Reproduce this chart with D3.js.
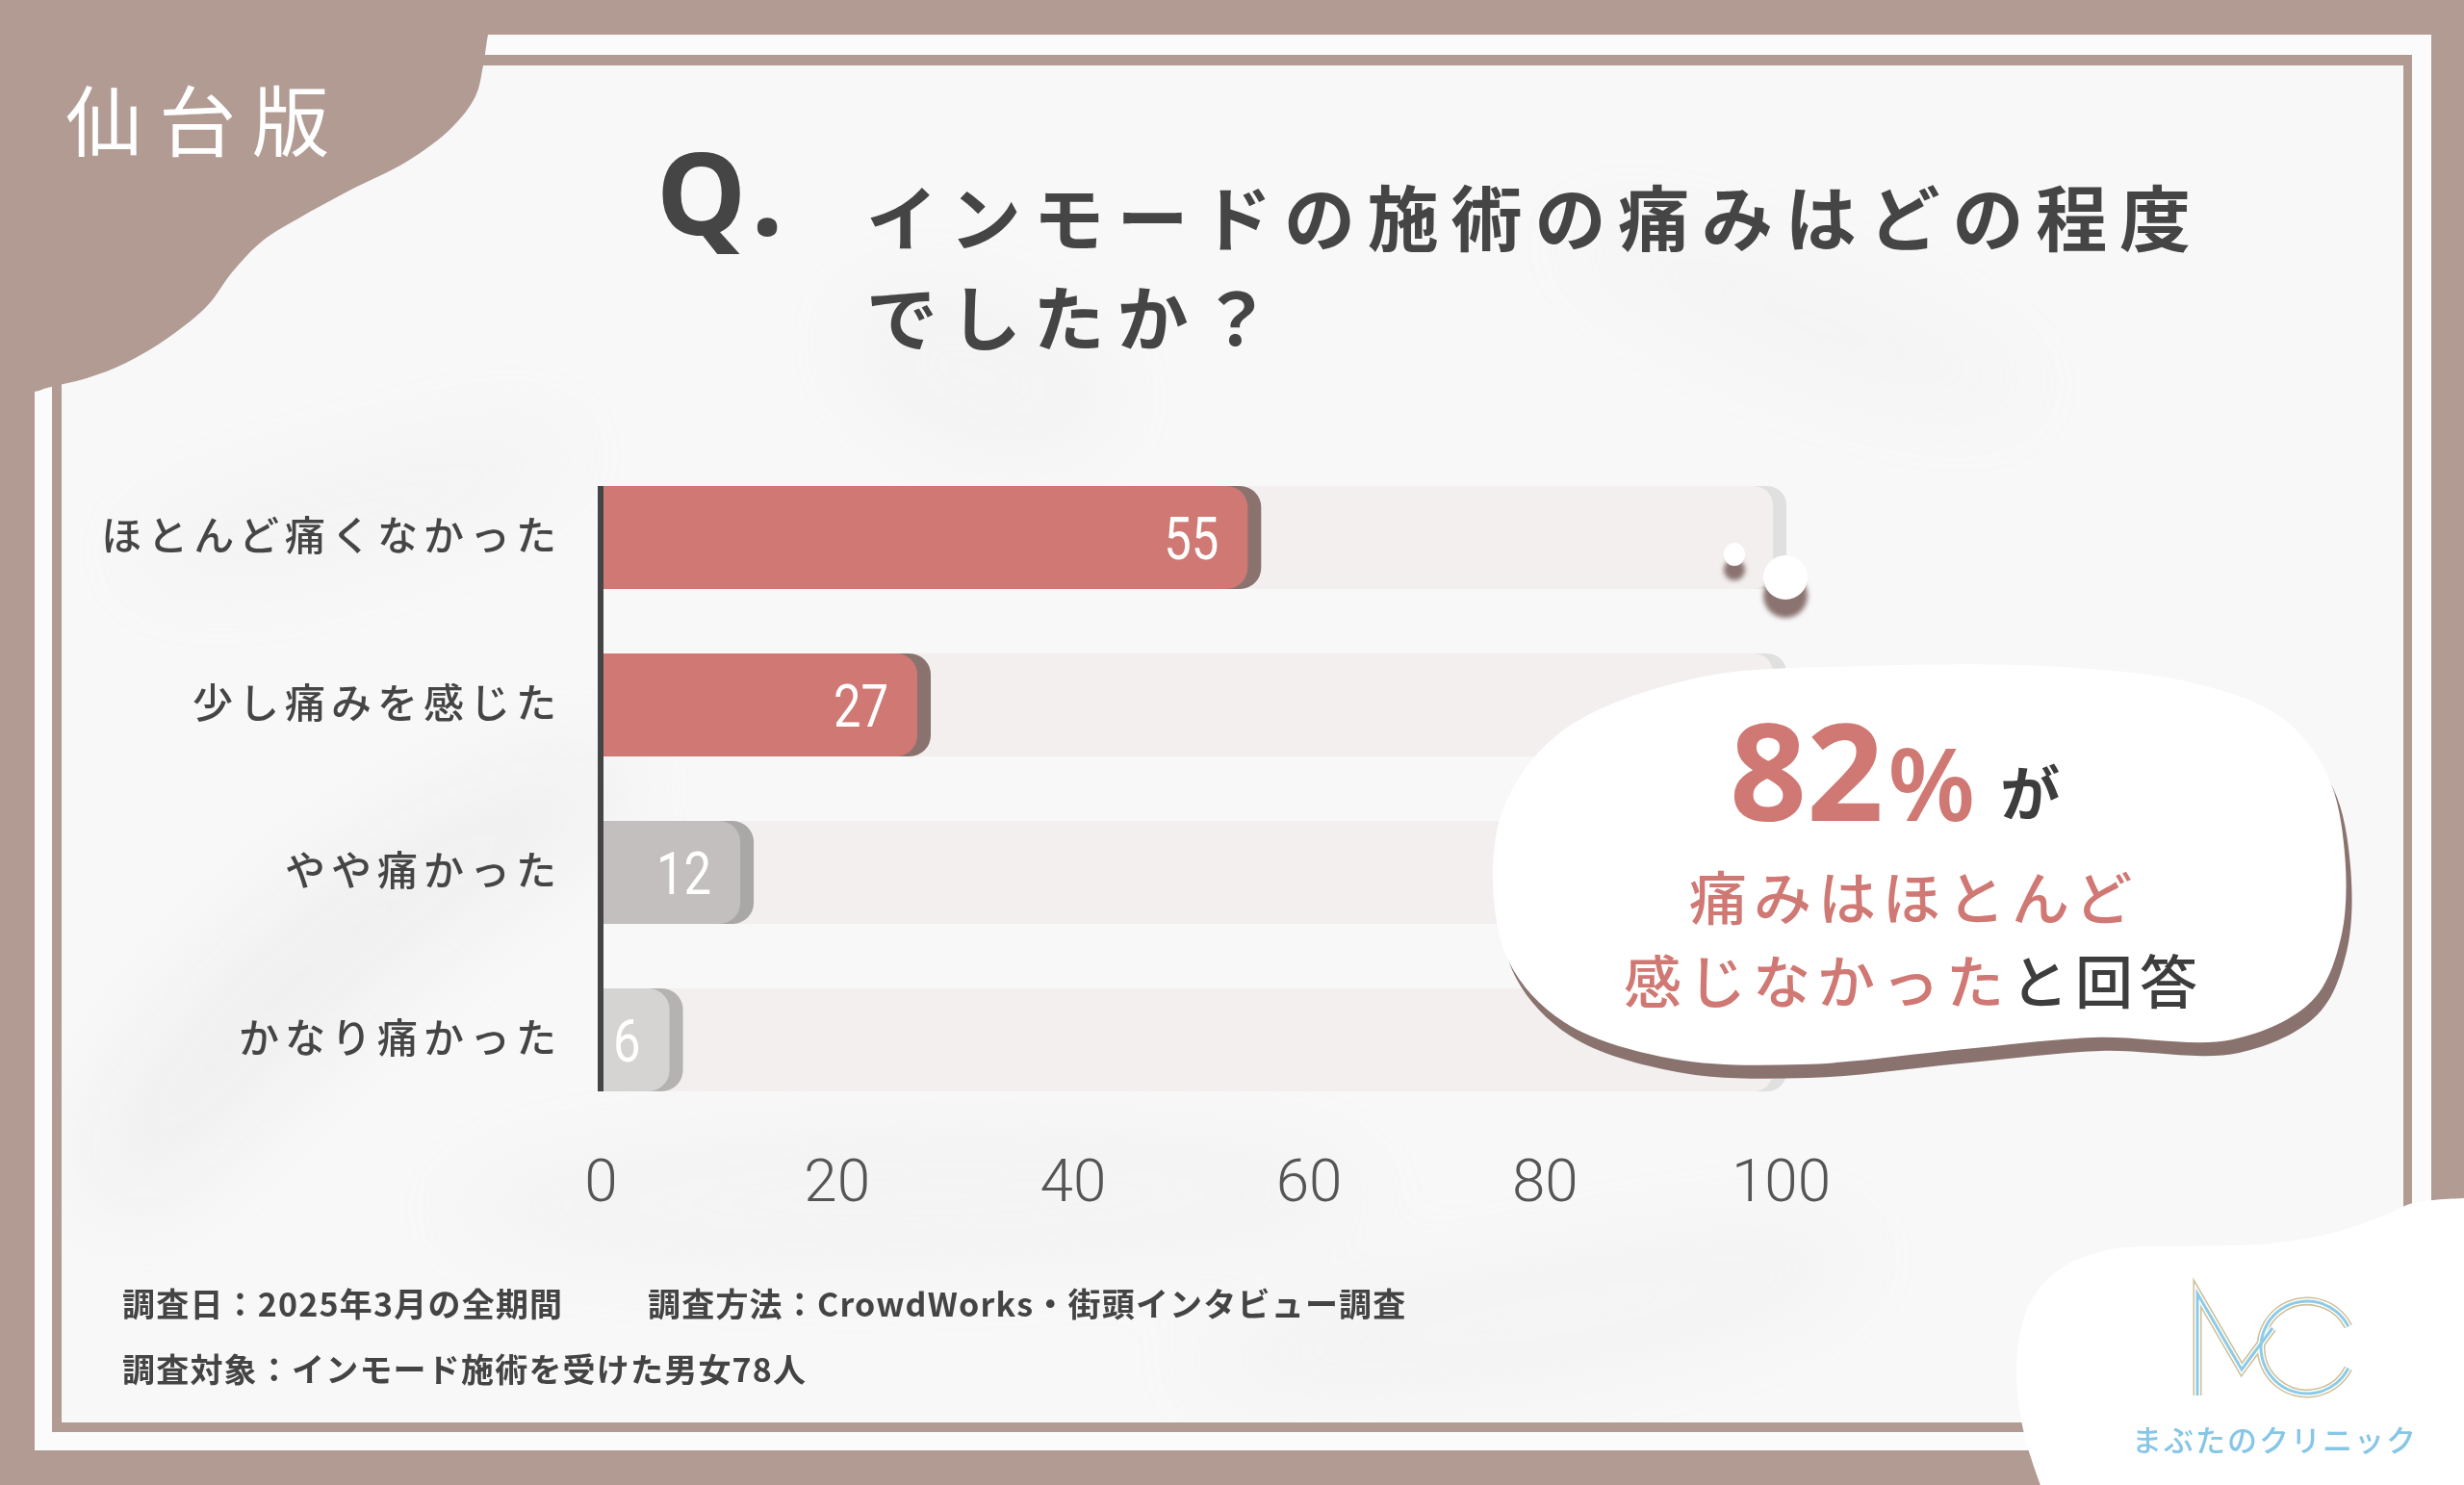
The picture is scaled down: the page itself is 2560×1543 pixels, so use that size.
<!DOCTYPE html>
<html><head><meta charset="utf-8">
<script src="https://cdn.jsdelivr.net/npm/d3@7"></script>
<style>html,body{margin:0;padding:0;background:#b19b93;overflow:hidden}</style>
</head><body>
<svg id="c" width="2560" height="1543" xmlns="http://www.w3.org/2000/svg"></svg>
<script>
// ---------- data ----------
const categories = ["ほとんど痛くなかった", "少し痛みを感じた", "やや痛かった", "かなり痛かった"];
const values = [55, 27, 12, 6];
const tickValues = [0, 20, 40, 60, 80, 100];
const regionLabel = "仙台版";
const titleLines = ["インモードの施術の痛みはどの程度", "でしたか？"];
const calloutNumber = "82";
const calloutLine2 = "痛みはほとんど";
const calloutLine3a = "感じなかった";
const calloutLine3b = "と回答";
const footnotes1 = ["調査日：2025年3月の全期間", "調査方法：CrowdWorks・街頭インタビュー調査"];
const footnotes2 = ["調査対象：インモード施術を受けた男女78人"];
const logoText = "まぶたのクリニック";

// ---------- setup ----------
const svg = d3.select("#c");
const W = 2560, H = 1543;
const BROWN = "#b19b93", DARK = "#454545", SALMON = "#d07873";
const JP = "'Noto Sans CJK JP','Noto Sans',sans-serif";

const defs = svg.append("defs");
defs.append("filter").attr("id", "blur").attr("x", "-50%").attr("y", "-50%").attr("width", "200%").attr("height", "200%")
  .append("feGaussianBlur").attr("stdDeviation", 45);
defs.append("filter").attr("id", "blurS").attr("x", "-50%").attr("y", "-50%").attr("width", "200%").attr("height", "200%")
  .append("feGaussianBlur").attr("stdDeviation", 2.5);
defs.append("clipPath").attr("id", "inner").append("rect").attr("x", 64).attr("y", 68).attr("width", 2433).attr("height", 1410);

// background brown
svg.append("rect").attr("width", W).attr("height", H).attr("fill", BROWN);
// outer white frame
svg.append("rect").attr("x", 36).attr("y", 36).attr("width", 2490).attr("height", 1471).attr("fill", "#fbfbfb");
// brown inner line
svg.append("rect").attr("x", 54).attr("y", 57).attr("width", 2452).attr("height", 1431).attr("fill", BROWN);
// inner area
svg.append("rect").attr("x", 64).attr("y", 68).attr("width", 2433).attr("height", 1410).attr("fill", "#f8f8f8");

// marble streaks
const marble = svg.append("g").attr("clip-path", "url(#inner)").attr("filter", "url(#blur)").attr("fill", "#dedede").attr("opacity", 0.32);
const streak = d3.line().curve(d3.curveBasisClosed);
marble.append("path").attr("d", streak([[60, 1180], [300, 900], [620, 760], [700, 820], [380, 1020], [120, 1320]]));
marble.append("path").attr("d", streak([[850, 280], [1100, 320], [1200, 440], [1050, 490], [900, 430]])).attr("opacity", 0.5);
marble.append("path").attr("d", streak([[300, 1250], [900, 1150], [1500, 1200], [1400, 1300], [700, 1330]])).attr("opacity", 0.5);
marble.append("path").attr("d", streak([[60, 560], [400, 470], [620, 420], [600, 520], [200, 640]])).attr("opacity", 0.45);
marble.append("path").attr("d", streak([[1100, 1420], [1600, 1300], [2000, 1250], [1900, 1380], [1400, 1470]])).attr("opacity", 0.5);
marble.append("path").attr("d", streak([[1550, 200], [1900, 260], [2200, 420], [2000, 450], [1700, 330]])).attr("opacity", 0.35);

// top-left brown blob
const blobTL = [[0, 0], [515, 0], [507, 36], [502, 68], [494, 100], [469, 133], [424, 167], [359, 200], [310, 227], [273, 250], [241, 283], [216, 317], [176, 350], [131, 377], [90, 393], [49, 403], [36, 407], [0, 410]];
svg.append("path").attr("d", d3.line().curve(d3.curveCatmullRom.alpha(0.5))(blobTL) + "Z").attr("fill", BROWN);

// region label
svg.append("text").attr("x", 68).attr("y", 121).attr("dominant-baseline", "central")
  .attr("font-family", JP).attr("font-size", 80).attr("font-weight", 400).attr("letter-spacing", 17)
  .attr("fill", "#ffffff").text(regionLabel);

// title
svg.append("text").attr("x", 682).attr("y", 244).attr("font-family", "'Noto Sans',sans-serif").attr("font-weight", 700)
  .attr("font-size", 118).attr("letter-spacing", 10).attr("fill", DARK).text("Q.");
svg.selectAll("text.title").data(titleLines).join("text").attr("class", "title")
  .attr("x", 900).attr("y", (d, i) => 222 + i * 104).attr("dominant-baseline", "central")
  .attr("font-family", JP).attr("font-weight", 700).attr("font-size", 74).attr("letter-spacing", 12.8)
  .attr("fill", DARK).text(d => d);

// ---------- chart ----------
const x = d3.scaleLinear().domain([0, 100]).range([624, 1850]);
const y = d3.scaleBand().domain(categories).range([471.5, 1167.5]).paddingInner(0.385).paddingOuter(0.1925);
const fillColor = d3.scaleOrdinal().domain(categories).range([SALMON, SALMON, "#c2bfbe", "#d6d4d3"]);
const edgeColor = d3.scaleOrdinal().domain(categories).range(["#8a736f", "#8a736f", "#aaa8a7", "#b5b3b2"]);

function rightRounded(x0, x1, yy, h, r) {
  r = Math.min(r, (x1 - x0), h / 2);
  return `M${x0},${yy}H${x1 - r}A${r},${r} 0 0 1 ${x1},${yy + r}V${yy + h - r}A${r},${r} 0 0 1 ${x1 - r},${yy + h}H${x0}Z`;
}

const rows = categories.map((c, i) => ({ cat: c, value: values[i] }));
const bh = y.bandwidth();
const g = svg.append("g");

// tracks
g.selectAll("path.trackEdge").data(rows).join("path").attr("class", "trackEdge")
  .attr("d", d => rightRounded(x(0), x(100) + 6, y(d.cat), bh, 20)).attr("fill", "#e1e0e0");
g.selectAll("path.track").data(rows).join("path").attr("class", "track")
  .attr("d", d => rightRounded(x(0), x(100) - 8, y(d.cat), bh, 20)).attr("fill", "#f2efee");

// bars
g.selectAll("path.barEdge").data(rows).join("path").attr("class", "barEdge")
  .attr("d", d => rightRounded(x(0), x(d.value) + 12, y(d.cat), bh, 22)).attr("fill", d => edgeColor(d.cat));
g.selectAll("path.bar").data(rows).join("path").attr("class", "bar")
  .attr("d", d => rightRounded(x(0), x(d.value) - 2, y(d.cat), bh, 22)).attr("fill", d => fillColor(d.cat));

// value labels
g.selectAll("text.val").data(rows).join("text").attr("class", "val")
  .attr("transform", d => `translate(${x(d.value) - 32},${y(d.cat) + bh / 2 + 1}) scale(0.82,1)`)
  .attr("text-anchor", "end").attr("dominant-baseline", "central")
  .attr("font-family", "Roboto,sans-serif").attr("font-size", 62).attr("font-weight", 400)
  .attr("fill", "#ffffff").text(d => d.value);

// axis line
g.append("line").attr("x1", x(0)).attr("x2", x(0)).attr("y1", y(categories[0])).attr("y2", y(categories[3]) + bh)
  .attr("stroke", "#454545").attr("stroke-width", 6);

// category labels
g.selectAll("text.cat").data(rows).join("text").attr("class", "cat")
  .attr("x", 578 + 6).attr("y", d => y(d.cat) + bh / 2 - 5).attr("text-anchor", "end").attr("dominant-baseline", "central")
  .attr("font-family", JP).attr("font-size", 42).attr("font-weight", 500).attr("letter-spacing", 6)
  .attr("fill", DARK).text(d => d.cat);

// x axis ticks
const axis = svg.append("g").attr("transform", "translate(0,1226)")
  .call(d3.axisBottom(x).tickValues(tickValues).tickSize(0).tickPadding(0));
axis.select(".domain").remove();
axis.selectAll("text").attr("y", 0).attr("dy", null).attr("dominant-baseline", "central")
  .attr("font-family", "Roboto,sans-serif").attr("font-weight", 300).attr("font-size", 62).attr("fill", "#555555");

// ---------- callout ----------
const bubble = svg.append("g");
bubble.append("circle").attr("cx", 1802).attr("cy", 592).attr("r", 11).attr("fill", "#8a736f").attr("filter", "url(#blurS)");
bubble.append("ellipse").attr("cx", 1802).attr("cy", 576).attr("rx", 11).attr("ry", 12).attr("fill", "#ffffff");
bubble.append("circle").attr("cx", 1855).attr("cy", 619).attr("r", 23).attr("fill", "#8a736f").attr("filter", "url(#blurS)");
bubble.append("circle").attr("cx", 1855).attr("cy", 600).attr("r", 23).attr("fill", "#ffffff");

const cloud = [[1939, 692], [2142, 693], [2280, 710], [2370, 745], [2418, 805], [2436, 886], [2432, 975], [2402, 1040],
  [2320, 1080], [2176, 1078], [2041, 1090], [1872, 1106], [1737, 1100], [1625, 1062], [1568, 1000], [1551, 909],
  [1566, 830], [1625, 758], [1760, 705]];
const cloudPath = d3.line().curve(d3.curveCatmullRomClosed.alpha(0.5))(cloud);
bubble.append("path").attr("d", cloudPath).attr("transform", "translate(6,14)").attr("fill", "#8a736f");
bubble.append("path").attr("d", cloudPath).attr("fill", "#ffffff");

const big = bubble.append("text").attr("x", 1797).attr("y", 853).attr("font-family", "'Noto Sans',sans-serif").attr("font-weight", 700);
big.append("tspan").attr("font-size", 140).attr("fill", SALMON).text(calloutNumber);
big.append("tspan").attr("font-size", 104).attr("dx", 4).attr("font-weight", 600).attr("fill", SALMON).text("%");
big.append("tspan").attr("font-size", 62).attr("dx", 26).attr("dy", -5).attr("font-family", JP).attr("fill", "#3d3d3d").text("が");

bubble.append("text").attr("x", 1755).attr("y", 929).attr("dominant-baseline", "central")
  .attr("font-family", JP).attr("font-weight", 500).attr("font-size", 60).attr("letter-spacing", 7)
  .attr("fill", SALMON).text(calloutLine2);
const l3 = bubble.append("text").attr("x", 1687).attr("y", 1016).attr("dominant-baseline", "central")
  .attr("font-family", JP).attr("font-weight", 500).attr("font-size", 60).attr("letter-spacing", 7);
l3.append("tspan").attr("fill", SALMON).text(calloutLine3a);
l3.append("tspan").attr("fill", "#3d3d3d").text(calloutLine3b);

// ---------- footnotes ----------
const fn = svg.append("g").attr("font-family", JP).attr("font-weight", 700).attr("font-size", 34)
  .attr("letter-spacing", 1.2).attr("fill", "#444444");
fn.selectAll("text.f1").data(footnotes1).join("text").attr("class", "f1")
  .attr("x", (d, i) => i === 0 ? 127 : 673).attr("y", 1353).attr("dominant-baseline", "central").text(d => d);
fn.selectAll("text.f2").data(footnotes2).join("text").attr("class", "f2")
  .attr("x", 127).attr("y", 1421).attr("dominant-baseline", "central").text(d => d);

// ---------- logo blob ----------
const blobBR = [[2560, 1245], [2507, 1250], [2477, 1263], [2427, 1280], [2360, 1292], [2260, 1295], [2193, 1298],
  [2143, 1317], [2113, 1347], [2100, 1380], [2095, 1430], [2103, 1490], [2120, 1543]];
svg.append("path").attr("d", d3.line().curve(d3.curveCatmullRom.alpha(0.5))(blobBR) + "L2560,1543Z").attr("fill", "#ffffff");

const logo = svg.append("g").attr("fill", "none").attr("stroke-linecap", "butt").attr("stroke-linejoin", "miter");
const mPath = "M2283,1450V1344L2329,1423L2361,1380";
const cPathStr = (() => {
  const p = d3.path(); const cx = 2397, cy = 1400, r = 48;
  p.arc(cx, cy, r, -0.47, 0.47, true); return p.toString();
})();
[[9, "#cdbf98"], [6, "#ffffff"], [3, "#8ccbe8"]].forEach(([w, c]) => {
  logo.append("path").attr("d", mPath).attr("stroke", c).attr("stroke-width", w);
  logo.append("path").attr("d", cPathStr).attr("stroke", c).attr("stroke-width", w);
});
svg.append("text").attr("x", 2215).attr("y", 1494).attr("dominant-baseline", "central")
  .attr("font-family", JP).attr("font-size", 31).attr("font-weight", 500).attr("letter-spacing", 2)
  .attr("fill", "#86c6e6").text(logoText);
</script>
</body></html>
